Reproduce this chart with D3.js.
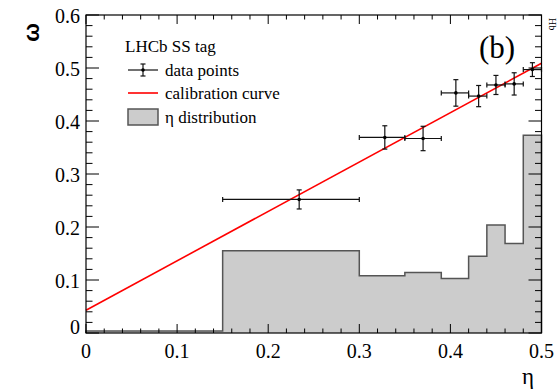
<!DOCTYPE html>
<html>
<head>
<meta charset="utf-8">
<script src="https://cdn.jsdelivr.net/npm/d3@7"></script>
<style>
  html, body { margin: 0; padding: 0; background: #fff; }
  svg { display: block; }
  text { font-family: "Liberation Serif", "Times New Roman", serif; fill: #000; }
</style>
</head>
<body>
<svg id="chart" width="560" height="390"></svg>
<script>
// η distribution histogram (bin edges and normalised heights)
const binEdges = [0, 0.15, 0.30, 0.35, 0.39, 0.42, 0.44, 0.46, 0.48, 0.50];
const binHeights = [0.004, 0.155, 0.108, 0.114, 0.103, 0.145, 0.204, 0.169, 0.373];

// measured mistag fraction ω per η bin
const etaMean  = [0.234, 0.328, 0.370, 0.406, 0.431, 0.450, 0.470, 0.490];
const etaLow   = [0.15, 0.30, 0.35, 0.39, 0.42, 0.44, 0.46, 0.48];
const etaHigh  = [0.30, 0.35, 0.39, 0.42, 0.44, 0.46, 0.48, 0.50];
const omega    = [0.252, 0.369, 0.367, 0.453, 0.447, 0.468, 0.470, 0.497];
const omegaErr = [0.018, 0.022, 0.023, 0.025, 0.020, 0.018, 0.021, 0.013];

// linear calibration ω = p0 + p1·η
const calibP0 = 0.043;
const calibP1 = 0.932;

const xTickValues = [0, 0.1, 0.2, 0.3, 0.4, 0.5];
const yTickValues = [0, 0.1, 0.2, 0.3, 0.4, 0.5, 0.6];
const legendLabels = ["LHCb SS tag", "data points", "calibration curve", "η distribution"];

const svg = d3.select("#chart");
const L = 86, R = 541.5, T = 15, B = 333;
const x = d3.scaleLinear().domain([0, 0.5]).range([L, R]);
const y = d3.scaleLinear().domain([0, 0.6]).range([B, T]);

// histogram as a step outline
const histPts = [[binEdges[0], 0]];
binHeights.forEach((h, i) => { histPts.push([binEdges[i], h], [binEdges[i + 1], h]); });
histPts.push([binEdges[binEdges.length - 1], 0]);
svg.append("path")
  .attr("d", d3.line().x(d => x(d[0])).y(d => y(d[1]))(histPts))
  .attr("fill", "#cccccc")
  .attr("stroke", "#555")
  .attr("stroke-width", 1.5);

// calibration line
const calib = [0, 0.5].map(e => [e, calibP0 + calibP1 * e]);
svg.append("path")
  .attr("d", d3.line().x(d => x(d[0])).y(d => y(d[1]))(calib))
  .attr("stroke", "#ff0000")
  .attr("stroke-width", 1.6)
  .attr("fill", "none");

// data points with error bars
const cap = 2.5;
const pts = etaMean.map((e, i) => ({ e, lo: etaLow[i], hi: etaHigh[i], w: omega[i], err: omegaErr[i] }));
const g = svg.append("g").attr("stroke", "#111").attr("stroke-width", 1.2);
pts.forEach(p => {
  g.append("line").attr("x1", x(p.lo)).attr("x2", x(p.hi)).attr("y1", y(p.w)).attr("y2", y(p.w));
  g.append("line").attr("x1", x(p.e)).attr("x2", x(p.e)).attr("y1", y(p.w - p.err)).attr("y2", y(p.w + p.err));
  [p.lo, p.hi].forEach(v => g.append("line").attr("x1", x(v)).attr("x2", x(v)).attr("y1", y(p.w) - cap).attr("y2", y(p.w) + cap));
  [p.w - p.err, p.w + p.err].forEach(v => g.append("line").attr("x1", x(p.e) - cap).attr("x2", x(p.e) + cap).attr("y1", y(v)).attr("y2", y(v)));
  svg.append("circle").attr("cx", x(p.e)).attr("cy", y(p.w)).attr("r", 1.8).attr("fill", "#000");
});

// frame
svg.append("rect").attr("x", L).attr("y", T).attr("width", R - L).attr("height", B - T)
  .attr("fill", "none").attr("stroke", "#000").attr("stroke-width", 1.2);

// inward ticks on all four sides
const xMinor = d3.range(0, 0.5001, 0.02);
const yMinor = d3.range(0, 0.6001, 0.02);
const tickG = svg.append("g").attr("stroke", "#000").attr("stroke-width", 1);
const isMajor = v => Math.abs(v * 10 - Math.round(v * 10)) < 1e-6;
xMinor.forEach(v => {
  const len = isMajor(v) ? 9 : 4.5;
  tickG.append("line").attr("x1", x(v)).attr("x2", x(v)).attr("y1", B).attr("y2", B - len);
  tickG.append("line").attr("x1", x(v)).attr("x2", x(v)).attr("y1", T).attr("y2", T + len);
});
yMinor.forEach(v => {
  const len = isMajor(v) ? 13 : 6.5;
  tickG.append("line").attr("x1", L).attr("x2", L + len).attr("y1", y(v)).attr("y2", y(v));
  tickG.append("line").attr("x1", R).attr("x2", R - len).attr("y1", y(v)).attr("y2", y(v));
});

// tick labels
const fmt = v => (v === 0 ? "0" : d3.format(".1f")(v));
xTickValues.forEach(v => {
  svg.append("text").attr("x", x(v)).attr("y", 358).attr("text-anchor", "middle")
    .attr("font-size", 20).text(fmt(v));
});
yTickValues.forEach(v => {
  svg.append("text").attr("x", 80).attr("y", y(v) + (v === 0 ? 1 : 8)).attr("text-anchor", "end")
    .attr("font-size", 20).text(fmt(v));
});

// axis titles
svg.append("text").attr("x", 534).attr("y", 384).attr("text-anchor", "end")
  .attr("font-size", 23).text("η");
svg.append("text").attr("transform", "translate(38.5,32.5) rotate(-90)").attr("text-anchor", "middle")
  .attr("font-size", 22).attr("font-weight", "bold")
  .style("font-family", "'Liberation Sans', Arial, sans-serif").text("ω");

// panel label
svg.append("text").attr("x", 479).attr("y", 58).attr("font-size", 31).text("(b)");

// legend
svg.append("text").attr("x", 125).attr("y", 52).attr("font-size", 17).text(legendLabels[0]);
const lx0 = 128, lx1 = 158, tx = 165;
const ly = [70, 93, 117];
const lg = svg.append("g");
lg.append("line").attr("x1", lx0).attr("x2", lx1).attr("y1", ly[0]).attr("y2", ly[0]).attr("stroke", "#111").attr("stroke-width", 1.2);
lg.append("line").attr("x1", 143).attr("x2", 143).attr("y1", ly[0] - 6).attr("y2", ly[0] + 6).attr("stroke", "#111").attr("stroke-width", 1.2);
[ly[0] - 6, ly[0] + 6].forEach(v => lg.append("line").attr("x1", 143 - cap).attr("x2", 143 + cap).attr("y1", v).attr("y2", v).attr("stroke", "#111").attr("stroke-width", 1.2));
lg.append("circle").attr("cx", 143).attr("cy", ly[0]).attr("r", 1.8).attr("fill", "#000");
lg.append("line").attr("x1", lx0).attr("x2", lx1).attr("y1", ly[1]).attr("y2", ly[1]).attr("stroke", "#ff0000").attr("stroke-width", 1.6);
lg.append("rect").attr("x", lx0).attr("y", ly[2] - 8).attr("width", lx1 - lx0).attr("height", 16)
  .attr("fill", "#cccccc").attr("stroke", "#555").attr("stroke-width", 1.5);
ly.forEach((v, i) => {
  svg.append("text").attr("x", tx).attr("y", v + 5.5).attr("font-size", 17).text(legendLabels[i + 1]);
});

// edge of the neighbouring panel's rotated caption
svg.append("text").attr("transform", "translate(549,18) rotate(90)").attr("font-size", 10)
  .attr("fill", "#444").text("Hb");
</script>
</body>
</html>
